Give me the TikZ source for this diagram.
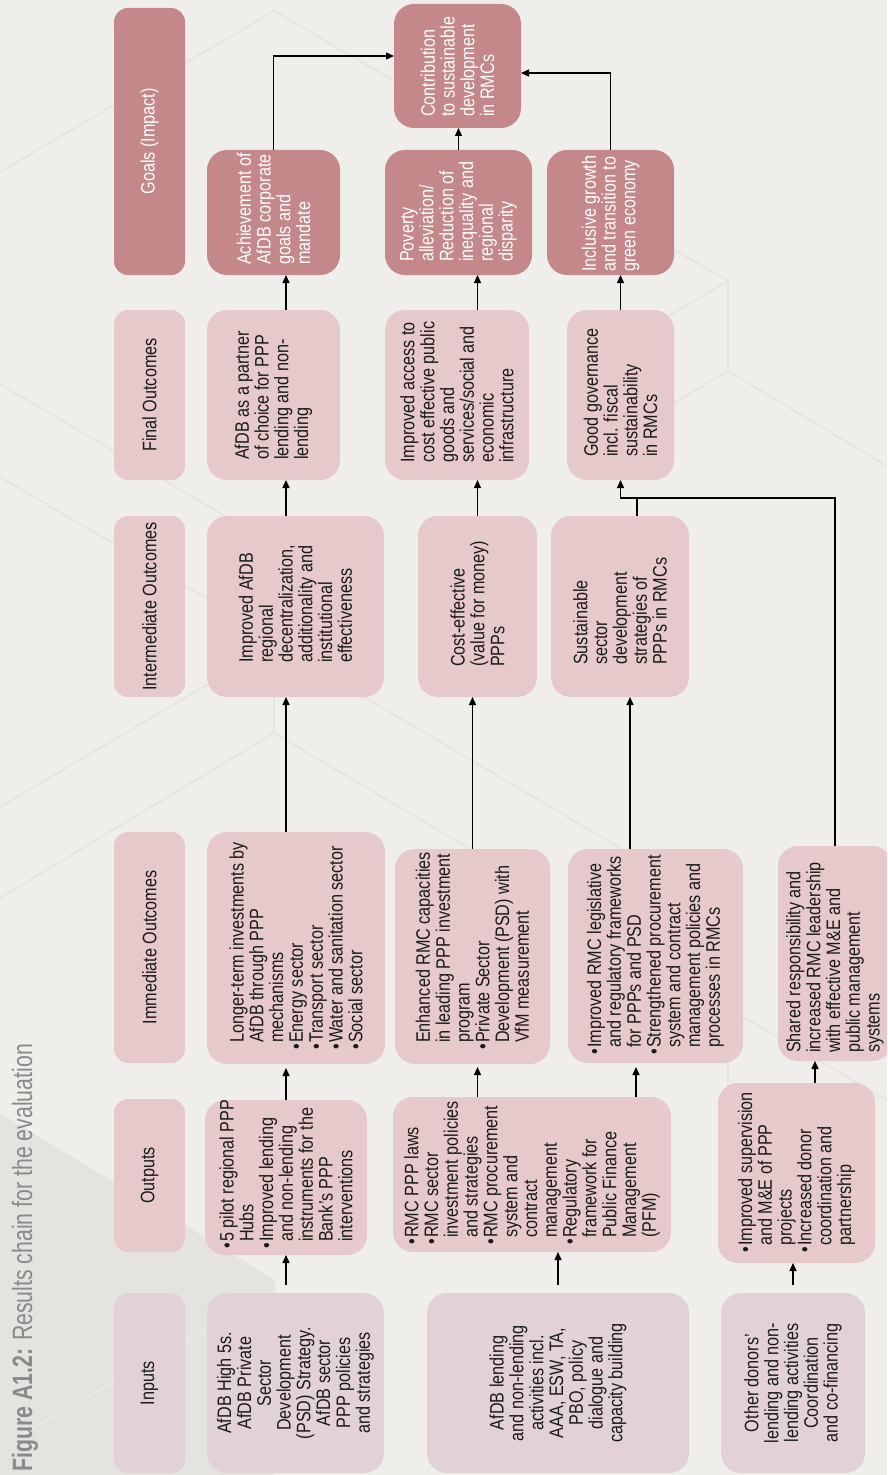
\documentclass[tikz,border=0pt]{standalone}
\usepackage{fontspec}
\setmainfont{Liberation Sans}[FakeStretch=0.83]
\newfontfamily\titlefont{Liberation Sans}[FakeStretch=0.76]
\usetikzlibrary{arrows.meta,calc}
\definecolor{bg}{HTML}{EFEEEA}
\definecolor{tri}{HTML}{E4E3DF}
\definecolor{hexl}{HTML}{E5E4E0}
\definecolor{pinkbox}{HTML}{E5C9CB}
\definecolor{inbox}{HTML}{E2D2D7}
\definecolor{rose}{HTML}{C4878A}
\definecolor{ink}{HTML}{1A1A1A}
\definecolor{titlegray}{HTML}{8A8A8A}
\newcommand{\bu}{\llap{•\hspace{1.5bp}}}
\newcommand{\fs}{\fontsize{19.5bp}{19.8bp}\selectfont}
\newcommand{\mkbox}[6]{\node[#1, minimum width=(#5-#3)*1bp, minimum height=(#6-#4)*1bp] (#2) at ({(#3+#5)/2},{(#4+#6)/2}) {};}
\tikzset{
  bx/.style={rounded corners=20bp, inner sep=0pt, outer sep=0pt, draw=none, rectangle},
  pbox/.style={bx, fill=pinkbox},
  ibox/.style={bx, fill=inbox},
  gbox/.style={bx, fill=rose},
  hp/.style={bx, rounded corners=14bp, fill=pinkbox},
  hi/.style={bx, rounded corners=14bp, fill=inbox},
  hg/.style={bx, rounded corners=14bp, fill=rose},
  txt/.style={rotate=90, inner sep=0pt, align=left, font=\fs, text=ink},
  ctxt/.style={txt, align=center},
  wtxt/.style={txt, text=white},
  arr/.style={-{Triangle[length=8bp,width=7bp]}, line width=1.3bp},
  ln/.style={line width=1.3bp},
  hexline/.style={draw=hexl, line width=1.8bp},
}
\begin{document}
\begin{tikzpicture}[x=1bp,y=-1bp]
\useasboundingbox (0,0) rectangle (887,1475);
\clip (0,0) rectangle (887,1475);
\fill[bg] (0,0) rectangle (887,1475);
% faint background pattern
\draw[hexline] (0,172) -- (274,11) -- (400,84);
\draw[hexline] (0,384) -- (300,560);
\draw[hexline] (0,477) -- (300,653);
\draw[hexline] (0,807) -- (300,630);
\draw[hexline] (0,898) -- (274,733) -- (550,896);
\draw[hexline] (274,733) -- (274,690);
\draw[hexline] (300,659) -- (620,848);
\draw[hexline] (640,230) -- (728,281) -- (728,371) -- (887,466);
\draw[hexline] (728,281) -- (660,321);
\draw[hexline] (728,371) -- (660,411);
\draw[hexline] (728,1063) -- (728,1090);
\draw[hexline] (740,1015) -- (887,1100);
\fill[tri] (0,1113) -- (275,1280) -- (275,1475) -- (0,1475) -- cycle;
\draw[bg!60!tri, line width=1.5bp] (275,1290) -- (0,1447);

% title
\node[rotate=90, anchor=base west, inner sep=0pt, font=\titlefont\fontsize{28bp}{30bp}\selectfont, text=titlegray] (title) at (32,1472) {\textbf{Figure A1.2:} Results chain for the evaluation};

% header column
\mkbox{hg}{hGoal}{114}{8}{185}{275}
\mkbox{hp}{hFinal}{114}{310}{185}{480}
\mkbox{hp}{hInter}{114}{516}{185}{697}
\mkbox{hp}{hImm}{114}{832}{185}{1063}
\mkbox{hp}{hOut}{114}{1099}{185}{1252}
\mkbox{hi}{hIn}{114}{1293}{185}{1473}
\node[wtxt, align=center] (thGoal) at (hGoal) {Goals (Impact)};
\node[ctxt] (thFinal) at (hFinal) {Final Outcomes};
\node[ctxt] (thInter) at (hInter) {Intermediate Outcomes};
\node[ctxt] (thImm) at (hImm) {Immediate Outcomes};
\node[ctxt] (thOut) at (hOut) {Outputs};
\node[ctxt] (thIn) at (hIn) {Inputs};

% content boxes
\mkbox{ibox}{in1}{207}{1293}{384}{1473}
\mkbox{ibox}{in2}{427}{1293}{689}{1473}
\mkbox{ibox}{in3}{721}{1293}{865}{1473}
\mkbox{pbox}{out1}{205}{1100}{367}{1255}
\mkbox{pbox}{out2}{393}{1097}{671}{1252}
\mkbox{pbox}{out3}{718}{1083}{875}{1263}
\mkbox{pbox}{imm1}{207}{832}{385}{1064}
\mkbox{pbox}{imm2}{395}{849}{550}{1064}
\mkbox{pbox}{imm3}{568}{849}{743}{1063}
\mkbox{pbox}{imm4}{778}{846}{892}{1061}
\mkbox{pbox}{int1}{207}{516}{384}{697}
\mkbox{pbox}{int2}{418}{516}{537}{697}
\mkbox{pbox}{int3}{551}{516}{689}{697}
\mkbox{pbox}{fin1}{207}{310}{340}{480}
\mkbox{pbox}{fin2}{385}{310}{529}{480}
\mkbox{pbox}{fin3}{567}{310}{674}{480}
\mkbox{gbox}{g1}{207}{150}{340}{275}
\mkbox{gbox}{g2}{385}{150}{532}{275}
\mkbox{gbox}{g3}{547}{150}{674}{275}
\mkbox{gbox}{top}{394}{4}{521}{128}

% texts
\node[ctxt] (tin1) at (in1) {AfDB High 5s.\\AfDB Private\\Sector\\Development\\(PSD) Strategy.\\AfDB sector\\PPP policies\\and strategies};
\node[ctxt] (tin2) at (in2) {AfDB lending\\and non-lending\\activities incl.\\AAA, ESW, TA,\\PBO, policy\\dialogue and\\capacity building};
\node[ctxt] (tin3) at (in3) {Other donors'\\lending and non-\\lending activities\\Coordination\\and co-financing};

\node[txt, anchor=west] (tout1) at (286,1242) {\bu 5 pilot regional PPP\\Hubs\\\bu Improved lending\\and non-lending\\instruments for the\\Bank's PPP\\interventions};
\node[txt, anchor=west] (tout2) at (532,1238) {\bu RMC PPP laws\\\bu RMC sector\\investment policies\\and strategies\\\bu RMC procurement\\system and\\contract\\management\\\bu Regulatory\\framework for\\Public Finance\\Management\\(PFM)};
\node[txt, anchor=west] (tout3) at (796.5,1246) {\bu Improved supervision\\and M\&E of PPP\\projects\\\bu Increased donor\\coordination and\\partnership};

\node[txt, anchor=west] (timm1) at (296,1043) {Longer-term investments by\\AfDB through PPP\\mechanisms\\\bu Energy sector\\\bu Transport sector\\\bu Water and sanitation sector\\\bu Social sector};
\node[txt, anchor=west] (timm2) at (472.5,1043) {Enhanced RMC capacities\\in leading PPP investment\\program\\\bu Private Sector\\Development (PSD) with\\VfM measurement};
\node[txt, anchor=west] (timm3) at (655.5,1048) {\bu Improved RMC legislative\\and regulatory frameworks\\for PPPs and PSD\\\bu Strengthened procurement\\system and contract\\management policies and\\processes in RMCs};
\node[txt, anchor=west] (timm4) at (835,1053) {Shared responsibility and\\increased RMC leadership\\with effective M\&E and\\public management\\systems};

\node[txt, anchor=west] (tint1) at (295.5,663) {Improved AfDB\\regional\\decentralization,\\additionality and\\institutional\\effectiveness};
\node[txt, anchor=west] (tint2) at (477.5,667) {Cost-effective\\(value for money)\\PPPs};
\node[txt, anchor=west] (tint3) at (620,665) {Sustainable\\sector\\development\\strategies of\\PPPs in RMCs};

\node[txt, anchor=west] (tfin1) at (273.5,460) {AfDB as a partner\\of choice for PPP\\lending and non-\\lending};
\node[txt, anchor=west] (tfin2) at (457,463) {Improved access to\\cost effective public\\goods and\\services/social and\\economic\\infrastructure};
\node[txt, anchor=west] (tfin3) at (620.5,457) {Good governance\\incl. fiscal\\sustainability\\in RMCs};

\node[wtxt, anchor=west] (tg1) at (273.5,265) {Achievement of\\AfDB corporate\\goals and\\mandate};
\node[wtxt, anchor=west] (tg2) at (458.5,262) {Poverty\\alleviation/\\Reduction of\\inequality and\\regional\\disparity};
\node[wtxt, anchor=west] (tg3) at (610.5,272) {Inclusive growth\\and transition to\\green economy};
\node[wtxt, anchor=west] (ttop) at (457.5,117) {Contribution\\to sustainable\\development\\in RMCs};

% connectors, column 1
\draw[arr] ($(out1.south |- in1.north)+(0,-8)$) -- (out1.south);
\draw[arr] (out1.north) -- ($(imm1.south -| out1.north)+(0,4)$);
\draw[arr] (imm1.north -| out1.north) -- (int1.south -| out1.north);
\draw[arr] (int1.north -| out1.north) -- (fin1.south -| out1.north);
\draw[arr] (fin1.north -| out1.north) -- (g1.south -| out1.north);
\draw[arr] (g1.north) |- ($(top.west)+(0,-10)$);
% column 2
\draw[arr] ($(in2.north)+(0,-8)$) -- (out2.south -| in2.north);
\draw[arr] (out2.north -| int2.south) -- ($(imm2.south -| int2.south)+(0,3)$);
\draw[arr] (imm2.north) -- (int2.south -| imm2.north);
\draw[arr] (int2.north) -- (fin2.south -| int2.north);
\draw[arr] (fin2.north -| int2.north) -- (g2.south -| int2.north);
\draw[arr] (g2.north) -- (top.south -| g2.north);
% column 3
\draw[arr] ($(out2.north -| imm3.south)+(-19.5,0)$) -- ($(imm3.south)+(-19.5,4)$);
\draw[arr] ($(imm3.north)+(-25.5,0)$) -- ($(int3.south)+(10,0)$);
\draw[ln] ($(int3.north)+(17,0)$) -- ++(0,-18);
\draw[arr] (imm4.north) |- ($(fin3.south)+(0,18)$) -- (fin3.south);
\draw[arr] (fin3.north) -- (g3.south -| fin3.north);
\draw[arr] (g3.north) |- ($(top.east)+(0,7)$);
% column 4
\draw[arr] ($(in3.north)+(0,-8)$) -- (out3.south -| in3.north);
\draw[arr] ($(out3.north)+(18.5,0)$) -- ($(imm4.south -| out3.north)+(18.5,0)$);
\end{tikzpicture}
\end{document}
